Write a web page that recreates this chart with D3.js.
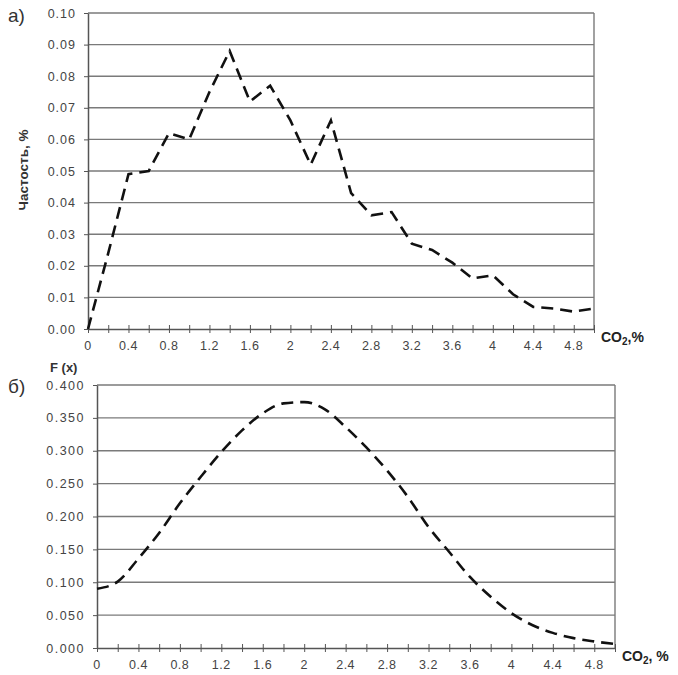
<!DOCTYPE html>
<html>
<head>
<meta charset="utf-8">
<script src="https://cdn.jsdelivr.net/npm/d3@7"></script>
<style>
  body { margin: 0; background: #fff; }
  text { font-family: 'Liberation Sans', Arial, sans-serif; }
</style>
</head>
<body>
<div id="chart"></div>
<script>
// categories (CO2, %) shared by both charts
var co2 = [0, 0.2, 0.4, 0.6, 0.8, 1.0, 1.2, 1.4, 1.6, 1.8, 2.0, 2.2, 2.4,
           2.6, 2.8, 3.0, 3.2, 3.4, 3.6, 3.8, 4.0, 4.2, 4.4, 4.6, 4.8, 5.0];
var xTickLabels = [0, 0.4, 0.8, 1.2, 1.6, 2, 2.4, 2.8, 3.2, 3.6, 4, 4.4, 4.8];

// a) frequency
var freq = [0.000, 0.024, 0.049, 0.050, 0.062, 0.060, 0.075, 0.088, 0.072, 0.077,
            0.066, 0.052, 0.066, 0.043, 0.036, 0.037, 0.027, 0.025, 0.021, 0.016,
            0.017, 0.011, 0.007, 0.0065, 0.0055, 0.0065];
var freqTicks = [0, 0.01, 0.02, 0.03, 0.04, 0.05, 0.06, 0.07, 0.08, 0.09, 0.10];

// б) F(x)
var fx = [0.090, 0.101, 0.136, 0.175, 0.220, 0.260, 0.298, 0.331, 0.357, 0.372,
          0.374, 0.363, 0.336, 0.305, 0.270, 0.230, 0.184, 0.146, 0.108, 0.078,
          0.053, 0.035, 0.023, 0.015, 0.010, 0.006];
var fxTicks = [0, 0.05, 0.10, 0.15, 0.20, 0.25, 0.30, 0.35, 0.40];

var svg = d3.select('#chart').append('svg')
    .attr('width', 678)
    .attr('height', 675);

var drawPanel = function(opt) {
  var x = d3.scaleLinear().domain([0, 5]).range([opt.left, opt.right]);
  var y = d3.scaleLinear().domain([0, opt.yMax]).range([opt.bottom, opt.top]);
  var g = svg.append('g');

  // gridlines
  g.selectAll('.grid')
      .data(opt.yTicks.filter(function(d) { return d > 0; }))
      .enter().append('line')
      .attr('x1', opt.left).attr('x2', opt.right)
      .attr('y1', function(d) { return y(d); })
      .attr('y2', function(d) { return y(d); })
      .attr('stroke', '#7a7a7a')
      .attr('stroke-width', 1.4);

  // right border
  g.append('line')
      .attr('x1', opt.right).attr('x2', opt.right)
      .attr('y1', opt.top).attr('y2', opt.bottom)
      .attr('stroke', '#7a7a7a')
      .attr('stroke-width', 1.4);

  // Y axis
  var yAxis = g.append('g')
      .attr('transform', 'translate(' + opt.left + ',0)')
      .call(d3.axisLeft(y).tickValues(opt.yTicks).tickFormat(d3.format(opt.yFmt))
            .tickSizeInner(4).tickSizeOuter(0).tickPadding(8));
  yAxis.select('.domain').attr('stroke', '#555').attr('stroke-width', 1.5);
  yAxis.selectAll('line').attr('stroke', '#555');
  yAxis.selectAll('text')
      .attr('font-size', '12.5px')
      .attr('letter-spacing', opt.ySpacing)
      .attr('fill', '#444');

  // X axis (crossing ticks at every category)
  var xAxis = g.append('g')
      .attr('transform', 'translate(0,' + opt.bottom + ')')
      .call(d3.axisBottom(x).tickValues(co2).tickFormat('')
            .tickSizeInner(4).tickSizeOuter(0));
  xAxis.select('.domain').attr('stroke', '#555').attr('stroke-width', 1.5);
  xAxis.selectAll('.tick line').attr('stroke', '#555').attr('y1', -4);

  g.selectAll('.xlab')
      .data(xTickLabels)
      .enter().append('text')
      .attr('x', function(d) { return x(d); })
      .attr('y', opt.bottom + 21)
      .attr('text-anchor', 'middle')
      .attr('font-size', '12.5px')
      .attr('letter-spacing', '0.5px')
      .attr('fill', '#444')
      .text(function(d) { return String(d); });

  // data line
  var line = d3.line()
      .x(function(d, i) { return x(co2[i]); })
      .y(function(d) { return y(d); })
      .curve(opt.curve);

  g.append('path')
      .datum(opt.values)
      .attr('d', line)
      .attr('fill', 'none')
      .attr('stroke', '#111')
      .attr('stroke-width', 2.6)
      .attr('stroke-dasharray', '12,7');

  // CO2 label
  var co = g.append('text')
      .attr('x', opt.right + 7)
      .attr('y', opt.bottom + 13)
      .attr('font-size', '14px')
      .attr('font-weight', 'bold')
      .attr('fill', '#222');
  co.append('tspan').text('CO');
  co.append('tspan').attr('font-size', '10px').attr('dy', 3).text('2');
  co.append('tspan').attr('dy', -3).text(opt.coSuffix);

  // panel letter
  g.append('text')
      .attr('x', 8)
      .attr('y', opt.letterY)
      .attr('font-size', '19px')
      .attr('fill', '#333')
      .text(opt.letter);

  return g;
};

// a)
var a = drawPanel({
  left: 88, right: 594, top: 13, bottom: 329,
  yMax: 0.10, yTicks: freqTicks, yFmt: '.2f', ySpacing: '1px',
  values: freq, curve: d3.curveLinear,
  coSuffix: ',%', letter: 'а)', letterY: 22
});

a.append('text')
    .attr('transform', 'translate(28,170) rotate(-90)')
    .attr('text-anchor', 'middle')
    .attr('font-size', '13.5px')
    .attr('font-weight', 'bold')
    .attr('fill', '#333')
    .text('Частость, %');

// б)
var b = drawPanel({
  left: 97, right: 615, top: 385, bottom: 648,
  yMax: 0.40, yTicks: fxTicks, yFmt: '.3f', ySpacing: '1.5px',
  values: fx, curve: d3.curveMonotoneX,
  coSuffix: ', %', letter: 'б)', letterY: 393
});

b.append('text')
    .attr('x', 50)
    .attr('y', 372)
    .attr('font-size', '13px')
    .attr('font-weight', 'bold')
    .attr('fill', '#333')
    .text('F (x)');
</script>
</body>
</html>
